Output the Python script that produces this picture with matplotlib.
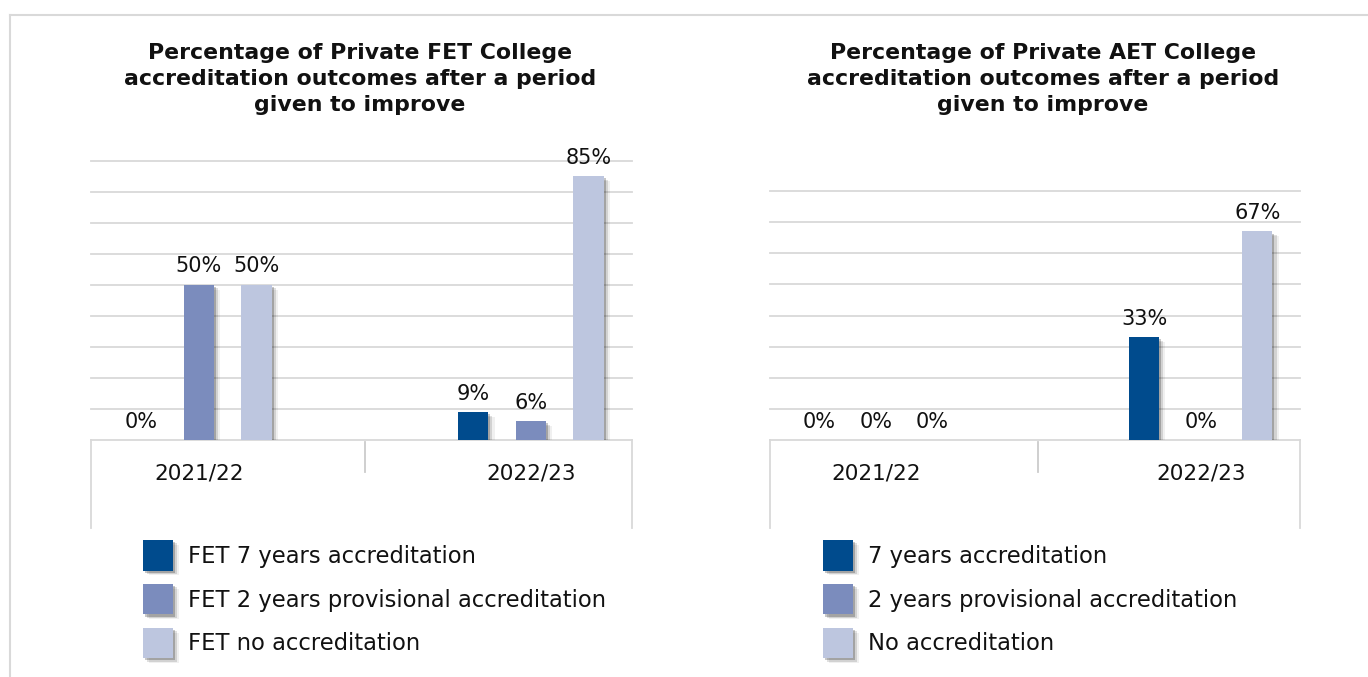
"""Private FET / AET college accreditation outcomes after improvement period."""

import matplotlib.pyplot as plt
import matplotlib.patheffects as pe
from matplotlib.lines import Line2D
from matplotlib.patches import Patch

categories = ["2021/22", "2022/23"]

fet_labels = ["FET 7 years accreditation", "FET 2 years provisional accreditation", "FET no accreditation"]
fet_7yr = [0, 9]
fet_2yr = [50, 6]
fet_none = [50, 85]

aet_labels = ["7 years accreditation", "2 years provisional accreditation", "No accreditation"]
aet_7yr = [0, 33]
aet_2yr = [0, 0]
aet_none = [0, 67]

colors = ["#004B8D", "#7B8CBD", "#BDC6DF"]
GRID = "#d9d9d9"
W, H = 1368, 677

plt.rcParams["font.family"] = ["DejaVu Sans"]

fig = plt.figure(figsize=(W / 100, H / 100), dpi=100)

# outer frame (top and left edges only visible)
fig.add_artist(Line2D([10 / W, 1], [1 - 15 / H, 1 - 15 / H], color=GRID, lw=1.5, transform=fig.transFigure))
fig.add_artist(Line2D([10 / W, 10 / W], [0, 1 - 15 / H], color=GRID, lw=1.5, transform=fig.transFigure))

shadow = [
    pe.SimplePatchShadow(offset=(1.5, -1.5), shadow_rgbFace="k", alpha=0.22),
    pe.SimplePatchShadow(offset=(3, -2.5), shadow_rgbFace="k", alpha=0.12),
    pe.SimplePatchShadow(offset=(4.5, -3.5), shadow_rgbFace="k", alpha=0.06),
    pe.Normal(),
]


def draw_panel(rect, ymax, series, labels, title, title_x, legend_xy):
    ax = fig.add_axes(rect)
    h_px = rect[3] * H
    step, width = 0.174, 0.092
    for k, vals in enumerate(series):
        xs = [i + (k - 1) * step for i in range(len(categories))]
        bars = ax.bar(xs, [v / 100 for v in vals], width=width, color=colors[k], zorder=3)
        for b in bars:
            b.set_path_effects(shadow)
        for x, v in zip(xs, vals):
            ax.annotate(f"{v}%", xy=(x, v / 100), xytext=(0, 9), textcoords="offset points",
                        ha="center", va="baseline", fontsize=15, color="#111111")
    ax.set_xlim(-0.325, 1.305)
    ax.set_ylim(0, ymax / 100)
    ax.set_yticks([t / 100 for t in range(10, ymax + 1, 10)])
    ax.set_yticklabels([])
    ax.tick_params(left=False, bottom=False, labelbottom=False)
    ax.set_xticks([])
    ax.yaxis.grid(True, color=GRID, lw=1.3, zorder=0)
    for gl in ax.get_ygridlines():
        gl.set_clip_on(False)
    for s in ("top", "left", "right"):
        ax.spines[s].set_visible(False)
    ax.spines["bottom"].set_color(GRID)
    ax.spines["bottom"].set_linewidth(1.3)
    ax.set_axisbelow(True)

    # category labels and divider lines below the axis
    for i, c in enumerate(categories):
        ax.annotate(c, xy=(i, 0), xycoords=("data", "axes fraction"), xytext=(0, -24),
                    textcoords="offset points", ha="center", va="center", fontsize=15.5, color="#111111")
    long_len = 88 / h_px
    for xa in (0, 1):
        ax.plot([xa, xa], [0, -long_len], transform=ax.transAxes, color=GRID, lw=1.3, clip_on=False)
    sep = ax.transLimits.transform((0.5, 0))[0]
    ax.plot([sep, sep], [-2 / h_px, -32 / h_px], transform=ax.transAxes, color="#cccccc", lw=1.3, clip_on=False)

    fig.text(title_x / W, 1 - 79 / H, title, ha="center", va="center", fontsize=15.8,
             fontweight="bold", color="#111111", linespacing=1.4)

    handles = [Patch(facecolor=colors[k], edgecolor="none", label=labels[k]) for k in range(3)]
    leg = fig.legend(handles=handles, loc="upper left", bbox_to_anchor=(legend_xy[0] / W, 1 - legend_xy[1] / H),
                     bbox_transform=fig.transFigure, frameon=False, fontsize=16.3, borderpad=0, borderaxespad=0,
                     handlelength=1.33, handleheight=1.7, handletextpad=0.65, labelspacing=0.59)
    for p in leg.get_patches():
        p.set_path_effects(shadow)
    for t in leg.get_texts():
        t.set_color("#111111")
    return ax


draw_panel([91 / W, 1 - 440 / H, 541 / W, 279.3 / H], 90,
           [fet_7yr, fet_2yr, fet_none], fet_labels,
           "Percentage of Private FET College\naccreditation outcomes after a period\ngiven to improve",
           360, (143, 540))
draw_panel([770 / W, 1 - 440 / H, 530 / W, 249 / H], 80,
           [aet_7yr, aet_2yr, aet_none], aet_labels,
           "Percentage of Private AET College\naccreditation outcomes after a period\ngiven to improve",
           1043, (823, 540))

fig.savefig("out.png", dpi=100)
